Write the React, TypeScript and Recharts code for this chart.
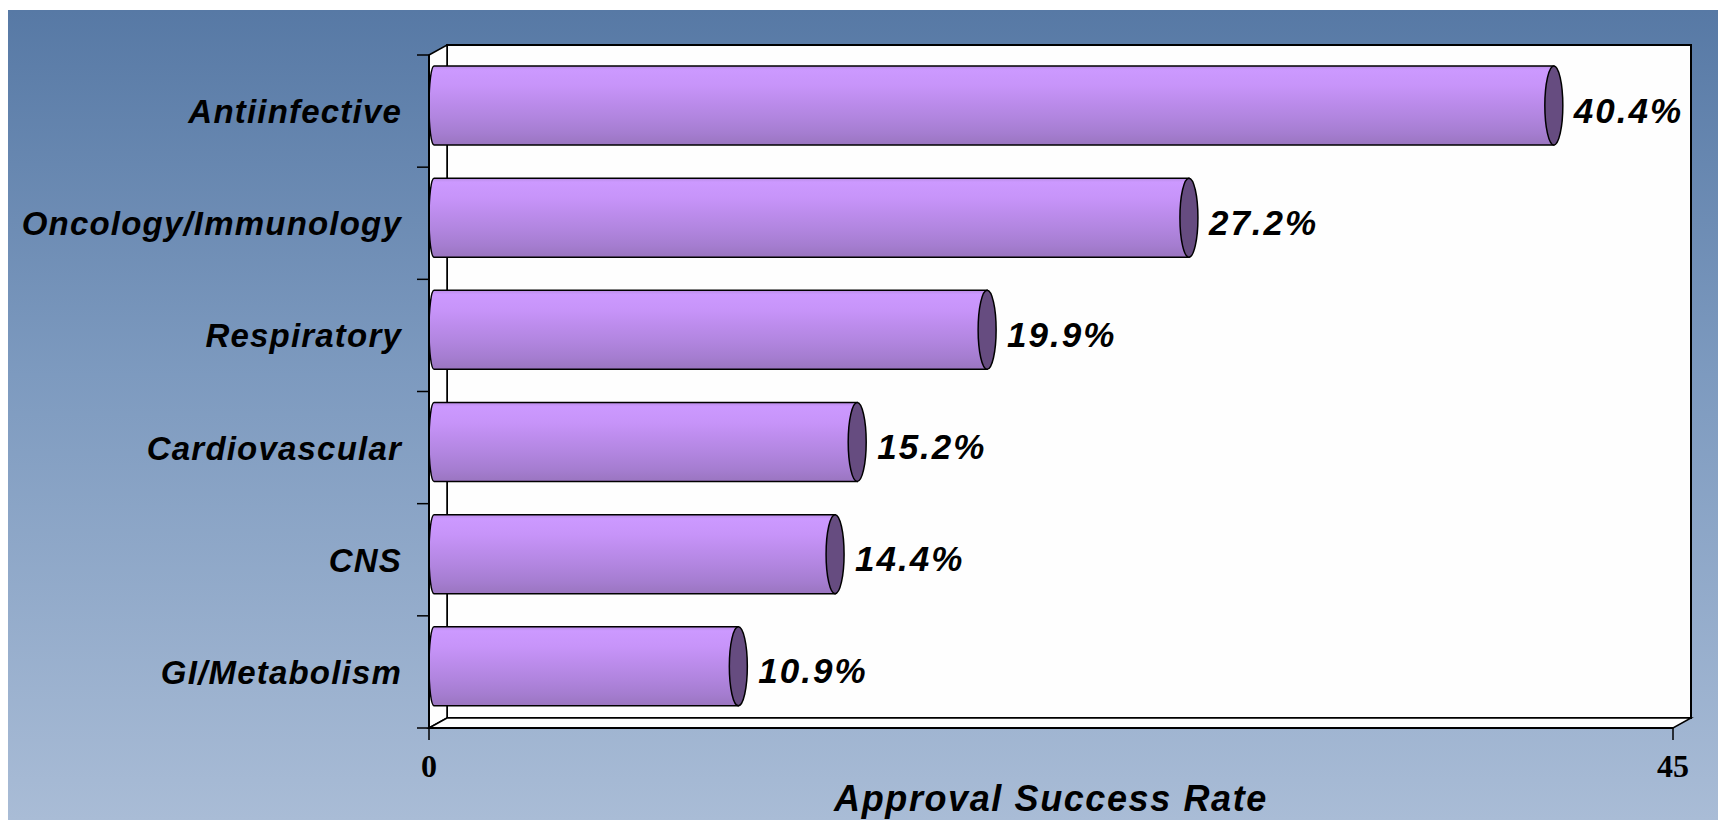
import { Bar, BarChart, LabelList, ReferenceArea, XAxis, YAxis } from "recharts"

const categories = ["Antiinfective", "Oncology/Immunology", "Respiratory", "Cardiovascular", "CNS", "GI/Metabolism"]
const successRates = [40.4, 27.2, 19.9, 15.2, 14.4, 10.9]
const xTicks = [0, 45]
const axisTitle = "Approval Success Rate"

const data = categories.map((name, i) => ({ name, rate: successRates[i] }))

// 3D look of the old Excel chart
const DEPTH_X = 18
const DEPTH_Y = 10
const BAR_LIFT = 6
const CAP_RX = 9
const SANS = "'Liberation Sans', Arial, sans-serif"
const SERIF = "'Liberation Serif', 'Times New Roman', serif"

function PlotBox(props: any) {
  const { x, y, width, height } = props
  const n = categories.length
  const bx = x + DEPTH_X
  const by = y - DEPTH_Y
  const right = x + width
  const bottom = y + height
  const band = height / n
  const bandTicks = Array.from({ length: n + 1 }, (_, i) => y + i * band)
  return (
    <g>
      <rect x={bx} y={by} width={width} height={height} fill="#fefefe" stroke="#000" strokeWidth={2} />
      <polygon
        points={`${x},${y} ${bx},${by} ${bx},${by + height} ${x},${bottom}`}
        fill="#fefefe"
        stroke="#000"
        strokeWidth={1.5}
      />
      <polygon
        points={`${x},${bottom} ${bx},${by + height} ${bx + width},${by + height} ${right},${bottom}`}
        fill="#fefefe"
        stroke="#000"
        strokeWidth={1.5}
      />
      {bandTicks.map((ty, i) => (
        <line key={i} x1={x - 12} x2={x} y1={ty} y2={ty} stroke="#000" strokeWidth={1.5} />
      ))}
    </g>
  )
}

function Cylinder(props: any) {
  const { x, y, width, height, index } = props
  const top = y - BAR_LIFT
  const bottom = top + height
  const mid = top + height / 2
  const x0 = x + 5
  const xe = x + width + DEPTH_X / 2 - 1
  const id = `cyl-grad-${index}`
  return (
    <g>
      <defs>
        <linearGradient id={id} x1="0" y1="0" x2="0" y2="1">
          <stop offset="0" stopColor="#b98be6" />
          <stop offset="0.05" stopColor="#cc99ff" />
          <stop offset="0.25" stopColor="#c794f9" />
          <stop offset="0.45" stopColor="#bc8cec" />
          <stop offset="0.65" stopColor="#b185df" />
          <stop offset="0.85" stopColor="#a57dd0" />
          <stop offset="1" stopColor="#9a75c0" />
        </linearGradient>
      </defs>
      <path
        d={`M${x0},${top} L${xe},${top} L${xe},${bottom} L${x0},${bottom} A5,${height / 2} 0 0 1 ${x0},${top} Z`}
        fill={`url(#${id})`}
        stroke="#000"
        strokeWidth={1.5}
      />
      <ellipse cx={xe} cy={mid} rx={CAP_RX} ry={height / 2} fill="#664c80" stroke="#000" strokeWidth={1.5} />
    </g>
  )
}

function ValueLabel(props: any) {
  const vb = props.viewBox ?? props
  const { x, y, width, height } = vb
  const tx = x + width + DEPTH_X / 2 - 1 + CAP_RX + 11
  const ty = y - BAR_LIFT + height / 2 + 17
  return (
    <text
      x={tx}
      y={ty}
      fill="#000"
      fontFamily={SANS}
      fontWeight="bold"
      fontStyle="italic"
      fontSize={35}
      letterSpacing={2}
    >
      {Number(props.value).toFixed(1)}%
    </text>
  )
}

function CategoryTick(props: any) {
  const { x, y, payload } = props
  return (
    <text
      x={x}
      y={y}
      dy={12}
      textAnchor="end"
      fill="#000"
      fontFamily={SANS}
      fontWeight="bold"
      fontStyle="italic"
      fontSize={33}
      letterSpacing={1.2}
    >
      {payload.value}
    </text>
  )
}

export default function App() {
  return (
    <div style={{ position: "absolute", left: 0, top: 0, width: 1718, height: 820, background: "#fff", overflow: "hidden" }}>
      <div
        style={{
          position: "absolute",
          left: 8,
          top: 10,
          right: 0,
          bottom: 0,
          background: "linear-gradient(180deg, #5779a5 0%, #7d9abf 45%, #a9bcd6 100%)",
        }}
      />
      <div style={{ position: "absolute", left: 0, top: 0 }}>
        <BarChart
          width={1718}
          height={820}
          data={data}
          layout="vertical"
          margin={{ top: 55, right: 45, bottom: 12, left: 9 }}
          barSize={79}
        >
          <ReferenceArea x1={0} x2={45} shape={<PlotBox />} />
          <XAxis
            type="number"
            domain={[0, 45]}
            ticks={xTicks}
            height={80}
            axisLine={{ stroke: "#000", strokeWidth: 2 }}
            tickLine={{ stroke: "#000", strokeWidth: 1.5 }}
            tickSize={12}
            tickMargin={14}
            tick={{ fill: "#000", fontSize: 32, fontWeight: "bold", fontFamily: SERIF }}
            label={{
              value: axisTitle,
              position: "insideBottom",
              offset: -3,
              fill: "#000",
              fontSize: 36,
              fontWeight: "bold",
              fontStyle: "italic",
              fontFamily: SANS,
              letterSpacing: 1.6,
            }}
          />
          <YAxis
            type="category"
            dataKey="name"
            width={420}
            axisLine={{ stroke: "#000", strokeWidth: 2 }}
            tickLine={false}
            tickSize={0}
            tickMargin={27}
            tick={<CategoryTick />}
          />
          <Bar dataKey="rate" shape={<Cylinder />} isAnimationActive={false}>
            <LabelList dataKey="rate" content={<ValueLabel />} />
          </Bar>
        </BarChart>
      </div>
    </div>
  )
}
